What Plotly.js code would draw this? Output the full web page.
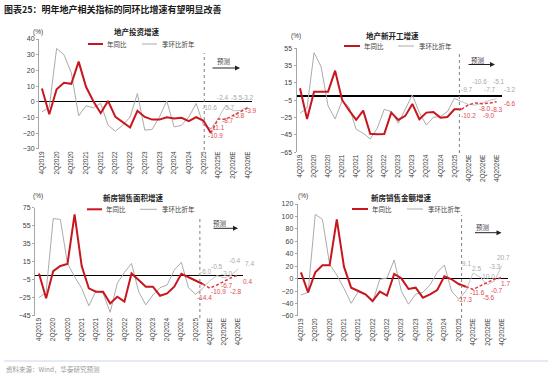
<!DOCTYPE html>
<html><head><meta charset="utf-8">
<script src="https://cdn.plot.ly/plotly-3.0.1.min.js"></script>
<style>html,body{margin:0;padding:0;background:#fff;}#chart{width:550px;height:375px;}</style>
</head><body><div id="chart"></div>
<script>
// ---------- DATA ----------
const categories = ['4Q2019','1Q2020','2Q2020','3Q2020','4Q2020','1Q2021','2Q2021','3Q2021','4Q2021',
  '1Q2022','2Q2022','3Q2022','4Q2022','1Q2023','2Q2023','3Q2023','4Q2023','1Q2024','2Q2024','3Q2024',
  '4Q2024','1Q2025','2Q2025','3Q2025','4Q2025E','1Q2026E','2Q2026E','3Q2026E','4Q2026E'];
const tickLabels = ['4Q2019','2Q2020','4Q2020','2Q2021','4Q2021','2Q2022','4Q2022','2Q2023','4Q2023',
  '2Q2024','4Q2024','2Q2025','4Q2025E','2Q2026E','4Q2026E'];

// 地产投资增速
const investYoY  = [8.5,-7.9,8.0,12.1,11.5,25.6,9.6,0.4,-7.2,0.6,-9.6,-13.2,-16.3,-5.7,-9.6,-11.3,-11.3,-9.8,-10.6,-10.2,-12.3,-9.8,-12.0,-19.8];
const investYoYF = [-10.9,-11.1,-8.7,-5.8,-3.9];
const investQoQ  = [-6.4,-3.5,34,30,18.5,-8.9,-2.5,-3.8,-1.0,-14.9,-18.7,-14.9,-9.6,5.3,-18,-17.6,-9.6,0.6,-16,-14.9,-9.6,-1.0,-14.9,-17];
const investQoQF = [-10.6,-2.4,-5.7,-5.5,-3.2];

// 地产新开工增速
const startYoY  = [8.8,-26.5,5,5,5,29.2,-4.6,-16.7,-27.5,-16.9,-43.6,-44.2,-43.8,-19.2,-27.7,-23,-9.2,-26.9,-19.2,-18.5,-25,-24.2,-15.4,-15.4];
const startYoYF = [-10.2,-8.0,-9.0,-8.3,-6.6];
const startQoQ  = [-20,-14,50,33.8,-11.5,-26.5,-5.4,-13,-38.5,-43,-49.6,-37.3,-15.4,-18,-31.5,-16,1.2,-19.2,-33.5,-24.6,-23.8,-18,-2.7,-6.5];
const startQoQF = [-9.7,-10.6,-7.7,-5.1,-3.2];

// 新房销售面积增速
const areaYoY  = [2,-25.7,4.6,10.2,12.4,67.6,10.2,-14.6,-18.3,-18.3,-31.3,-23.9,-29.4,2,-5.4,-12.8,-12.8,-22.8,-20.2,-12.8,1.5,-2.3,-6,-9.8];
const areaYoYF = [-14.4,-10.9,-6.7,-2.8,0.4];
const areaQoQ  = [-25,-19,63,62,13,-1.7,-14.6,-34,-17.6,-20,-41.3,-9,3.1,13.1,-18.3,-33,-22,-13.9,-10.9,5.7,14.3,-13.9,-21.3,-14.6];
const areaQoQF = [-6.0,-0.5,-3.0,-0.4,7.4];

// 新房销售金额增速
const valueYoY  = [10.2,-22,10.2,21.4,21.4,95.3,19.3,-14.5,-19.8,-25.2,-35.9,-20.9,-27.3,7.5,0.5,-16.6,-14.5,-30.5,-25.2,-18.2,3.7,-1,-8.6,-12.9];
const valueYoYF = [-17.3,-11.6,-5.6,-0.7,1.7];
const valueQoQ  = [-26.2,-22,103.4,95.3,23,5.9,-15.5,-39.6,-20.9,-26.2,-38,-1,1,30,-20,-41,-25,-22,-10,10,22,-20,-33,-20];
const valueQoQF = [9.1,2.5,-10.0,-3.3,20.7];

const panelTitles = ['地产投资增速','地产新开工增速','新房销售面积增速','新房销售金额增速'];
const legendNames = ['年同比','季环比折年'];
const forecastText = '预测';
const mainTitle = '图表25：明年地产相关指标的同环比增速有望明显改善';
const sourceText = '资料来源：Wind，华泰研究预测';

// ---------- LAYOUT CONFIG (positions in px) ----------
const W = 550, H = 375;
const PX = x => x / W, PY = y => 1 - y / H;
const RED = '#C8161E', RED_F = '#DE3A40', GRAY = '#ABABAB', GRAY_F = '#C6C6C6';
const LBL_RED = '#E04A4F', LBL_GRAY = '#A9A9A9', TXT = '#404040';
const CJK = 'Noto Sans CJK SC', LAT = 'Liberation Sans';

const panels = [
  {yoy: investYoY, yoyF: investYoYF, qoq: investQoQ, qoqF: investQoQF,
   xd: [39, 252], xr: [-0.4, 28.6], yd: [39, 149], yr: [-30, 40], dt: 10,
   titleXY: [137, 31], pctXY: [38, 32], legY: 44, legRed: [88, 103], legGray: [142, 157],
   vline: 22.1, vY: [53, 150], fcText: [224, 61], arrow: [211, 240, 68],
   redOff: [[-3,17],[-8,8],[-5,4.5],[-1,5],[3,3]],
   grayOff: [[-9,-11],[-3,-8],[-4,-3],[-3,-13],[0,-9]]},
  {yoy: startYoY, yoyF: startYoYF, qoq: startQoQ, qoqF: startQoQF,
   xd: [296.5, 501.5], xr: [-0.5, 28.7], yd: [48.3, 152.3], yr: [-65, 55], dt: 20,
   titleXY: [392, 35], pctXY: [296, 36], legY: 46, legRed: [344, 360], legGray: [398, 414],
   vline: 22.7, vY: [53, 153], fcText: [477.5, 59.5], arrow: [467, 495, 64.5],
   redOff: [[0,11],[9,6],[6.5,11.5],[7.5,6],[13,1.6]],
   grayOff: [[-1.5,-14.5],[3.5,-23.5],[7.5,-13],[9.5,-18.5],[13,-9.5]]},
  {yoy: areaYoY, yoyF: areaYoYF, qoq: areaQoQ, qoqF: areaQoQF,
   xd: [35, 243.3], xr: [-0.56, 28.7], yd: [207.7, 315.7], yr: [-45, 75], dt: 20,
   titleXY: [133, 197], pctXY: [38, 195.5], legY: 209.3, legRed: [87, 102], legGray: [140, 157],
   vline: 22.6, vY: [218, 318], fcText: [220, 223.3], arrow: [212, 238, 228.3],
   redOff: [[-5,9],[1.5,6.7],[3.4,4],[5,14],[9,7]],
   grayOff: [[-3.5,-9],[0.5,-9],[3,-4],[4,-15],[11,-5]]},
  {yoy: valueYoY, yoyF: valueYoYF, qoq: valueQoQ, qoqF: valueQoQF,
   xd: [297.7, 507.5], xr: [-0.45, 28.8], yd: [204, 316], yr: [-60, 120], dt: 20,
   titleXY: [401, 197], pctXY: [302.5, 196], legY: 209, legRed: [352, 368], legGray: [407, 423],
   vline: 22.4, vY: [215, 318], fcText: [482.5, 227.3], arrow: [473.5, 501.5, 232.7],
   redOff: [[-8.5,10.5],[-2.7,7],[1.5,15.5],[2,11],[4,6]],
   grayOff: [[-7,-10],[-3.7,-9],[0.5,-8],[0.3,-14],[1.5,-8.5]]}
];

const traces = [], annotations = [], shapes = [];
const layout = {width: W, height: H, margin: {l:0, r:0, t:0, b:0}, showlegend: false,
  paper_bgcolor: '#fff', plot_bgcolor: 'rgba(0,0,0,0)', hovermode: false};

const nA = investYoY.length;
const actCats = categories.slice(0, nA);
const fcCats = categories.slice(nA - 1);
const fcOnly = categories.slice(nA);

panels.forEach((p, k) => {
  const n = k + 1;
  const xa = n === 1 ? 'x' : 'x' + n, ya = n === 1 ? 'y' : 'y' + n;
  const xk = n === 1 ? 'xaxis' : 'xaxis' + n, yk = n === 1 ? 'yaxis' : 'yaxis' + n;

  traces.push({x: actCats, y: p.qoq, xaxis: xa, yaxis: ya, mode: 'lines', line: {color: GRAY, width: 1}});
  traces.push({x: fcCats, y: [p.qoq[nA-1]].concat(p.qoqF), xaxis: xa, yaxis: ya, mode: 'lines', line: {color: GRAY_F, width: 1}});
  traces.push({x: actCats, y: p.yoy, xaxis: xa, yaxis: ya, mode: 'lines', line: {color: RED, width: 2}});
  traces.push({x: fcCats, y: [p.yoy[nA-1]].concat(p.yoyF), xaxis: xa, yaxis: ya, mode: 'lines', line: {color: RED_F, width: 1.5, dash: '3px,2px'}});

  layout[xk] = {domain: [PX(p.xd[0]), PX(p.xd[1])], anchor: ya, type: 'category', range: p.xr,
    tickmode: 'array', tickvals: tickLabels, ticktext: tickLabels, tickangle: -90,
    tickfont: {family: LAT, size: 6.5, color: TXT}, showgrid: false, zeroline: false, showline: false, ticks: ''};
  layout[yk] = {domain: [PY(p.yd[1]), PY(p.yd[0])], anchor: xa, range: [p.yr[0] - 0.02, p.yr[1] + 0.02],
    tick0: p.yr[0], dtick: p.dt, showgrid: false, zeroline: true, zerolinecolor: '#000', zerolinewidth: 1.1,
    showline: true, linecolor: '#A6A6A6', linewidth: 1, ticks: 'outside', ticklen: 2, tickcolor: '#A6A6A6',
    tickfont: {family: LAT, size: 7, color: TXT}};

  // forecast labels
  p.yoyF.forEach((v, i) => annotations.push({xref: xa, yref: ya, x: fcOnly[i], y: v, text: v.toFixed(1),
    showarrow: false, xshift: p.redOff[i][0], yshift: -p.redOff[i][1], font: {family: LAT, size: 6.5, color: LBL_RED}}));
  p.qoqF.forEach((v, i) => annotations.push({xref: xa, yref: ya, x: fcOnly[i], y: v, text: v.toFixed(1),
    showarrow: false, xshift: p.grayOff[i][0], yshift: -p.grayOff[i][1], font: {family: LAT, size: 6.5, color: LBL_GRAY}}));

  // titles & legend
  annotations.push({xref: 'paper', yref: 'paper', x: PX(p.titleXY[0]), y: PY(p.titleXY[1]), text: panelTitles[k],
    showarrow: false, xanchor: 'center', yanchor: 'middle', font: {family: CJK, size: 7.5, color: '#222', weight: 'bold'}});
  annotations.push({xref: 'paper', yref: 'paper', x: PX(p.pctXY[0]), y: PY(p.pctXY[1]), text: '(%)',
    showarrow: false, xanchor: 'center', yanchor: 'middle', font: {family: LAT, size: 6.5, color: TXT}});
  shapes.push({type: 'line', xref: 'paper', yref: 'paper', x0: PX(p.legRed[0]), x1: PX(p.legRed[1]), y0: PY(p.legY), y1: PY(p.legY), line: {color: RED, width: 2}});
  shapes.push({type: 'line', xref: 'paper', yref: 'paper', x0: PX(p.legGray[0]), x1: PX(p.legGray[1]), y0: PY(p.legY), y1: PY(p.legY), line: {color: GRAY, width: 1}});
  annotations.push({xref: 'paper', yref: 'paper', x: PX(p.legRed[1] + 2), y: PY(p.legY), text: legendNames[0],
    showarrow: false, xanchor: 'left', yanchor: 'middle', font: {family: CJK, size: 6.5, color: TXT}});
  annotations.push({xref: 'paper', yref: 'paper', x: PX(p.legGray[1] + 3), y: PY(p.legY), text: legendNames[1],
    showarrow: false, xanchor: 'left', yanchor: 'middle', font: {family: CJK, size: 6.5, color: TXT}});

  // forecast divider, text, arrow
  shapes.push({type: 'line', xref: xa, yref: 'paper', x0: p.vline, x1: p.vline, y0: PY(p.vY[1]), y1: PY(p.vY[0]),
    line: {color: '#808080', width: 1, dash: 'dot'}});
  annotations.push({xref: 'paper', yref: 'paper', x: PX(p.fcText[0]), y: PY(p.fcText[1]), text: forecastText,
    showarrow: false, xanchor: 'center', yanchor: 'middle', font: {family: CJK, size: 6.5, color: TXT}});
  annotations.push({xref: 'paper', yref: 'paper', x: PX(p.arrow[1]), y: PY(p.arrow[2]), text: '',
    showarrow: true, ax: -(p.arrow[1] - p.arrow[0]), ay: 0, arrowhead: 2, arrowsize: 1, arrowwidth: 1, arrowcolor: '#222'});
});

// main title, source, frame lines
annotations.push({xref: 'paper', yref: 'paper', x: PX(2), y: PY(9), text: mainTitle, showarrow: false,
  xanchor: 'left', yanchor: 'middle', font: {family: CJK, size: 9, color: '#1a1a1a', weight: 'bold'}});
annotations.push({xref: 'paper', yref: 'paper', x: PX(4), y: PY(368.5), text: sourceText, showarrow: false,
  xanchor: 'left', yanchor: 'middle', font: {family: CJK, size: 6.5, color: '#999'}});
shapes.push({type: 'line', xref: 'paper', yref: 'paper', x0: PX(4), x1: PX(548), y0: PY(361), y1: PY(361), line: {color: '#C9D6E8', width: 1}});

layout.annotations = annotations;
layout.shapes = shapes;
Plotly.newPlot('chart', traces, layout, {staticPlot: true, displayModeBar: false});
</script></body></html>
